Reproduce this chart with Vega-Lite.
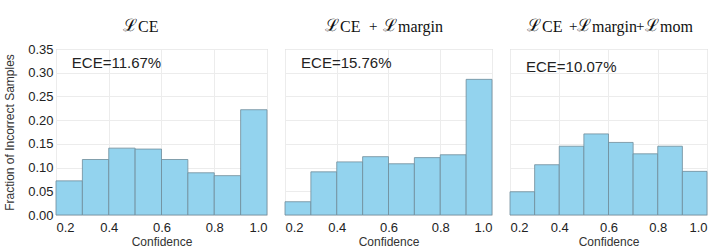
{
  "$schema": "https://vega.github.io/schema/vega-lite/v6.json",
  "padding": {"left": 3, "top": 16, "right": 0, "bottom": 0},
  "spacing": 18,
  "bounds": "flush",
  "config": {
    "view": {"stroke": "#c4c4c4", "strokeWidth": 1},
    "axis": {
      "labelFont": "Liberation Sans", "labelFontSize": 13, "labelColor": "#222",
      "titleFont": "Liberation Sans", "titleFontSize": 12, "titleFontWeight": "normal", "titleColor": "#333",
      "gridColor": "#ececec", "domain": false, "ticks": false
    }
  },
  "datasets": {
    "bins": [
      {"panel": 1, "x": 0.2, "x2": 0.3, "y": 0.072},
      {"panel": 1, "x": 0.3, "x2": 0.4, "y": 0.117},
      {"panel": 1, "x": 0.4, "x2": 0.5, "y": 0.141},
      {"panel": 1, "x": 0.5, "x2": 0.6, "y": 0.139},
      {"panel": 1, "x": 0.6, "x2": 0.7, "y": 0.117},
      {"panel": 1, "x": 0.7, "x2": 0.8, "y": 0.089},
      {"panel": 1, "x": 0.8, "x2": 0.9, "y": 0.083},
      {"panel": 1, "x": 0.9, "x2": 1.0, "y": 0.222},
      {"panel": 2, "x": 0.2, "x2": 0.3, "y": 0.028},
      {"panel": 2, "x": 0.3, "x2": 0.4, "y": 0.091},
      {"panel": 2, "x": 0.4, "x2": 0.5, "y": 0.112},
      {"panel": 2, "x": 0.5, "x2": 0.6, "y": 0.123},
      {"panel": 2, "x": 0.6, "x2": 0.7, "y": 0.108},
      {"panel": 2, "x": 0.7, "x2": 0.8, "y": 0.121},
      {"panel": 2, "x": 0.8, "x2": 0.9, "y": 0.127},
      {"panel": 2, "x": 0.9, "x2": 1.0, "y": 0.286},
      {"panel": 3, "x": 0.2, "x2": 0.3, "y": 0.049},
      {"panel": 3, "x": 0.3, "x2": 0.4, "y": 0.106},
      {"panel": 3, "x": 0.4, "x2": 0.5, "y": 0.145},
      {"panel": 3, "x": 0.5, "x2": 0.6, "y": 0.171},
      {"panel": 3, "x": 0.6, "x2": 0.7, "y": 0.153},
      {"panel": 3, "x": 0.7, "x2": 0.8, "y": 0.129},
      {"panel": 3, "x": 0.8, "x2": 0.9, "y": 0.145},
      {"panel": 3, "x": 0.9, "x2": 1.0, "y": 0.092}
    ],
    "ece": [
      {"panel": 1, "x": 0.26, "y": 0.32, "t": "ECE=11.67%"},
      {"panel": 2, "x": 0.262, "y": 0.32, "t": "ECE=15.76%"},
      {"panel": 3, "x": 0.265, "y": 0.313, "t": "ECE=10.07%"}
    ],
    "titles": [
      {"panel": 1, "t": "ℒ", "x": 0.454, "y": 0.388, "role": "L"},
      {"panel": 1, "t": "CE", "x": 0.511, "y": 0.385, "role": "sub"},
      {"panel": 2, "t": "ℒ", "x": 0.3546, "y": 0.388, "role": "L"},
      {"panel": 2, "t": "CE", "x": 0.4126, "y": 0.385, "role": "sub"},
      {"panel": 2, "t": "+", "x": 0.5246, "y": 0.388, "role": "op"},
      {"panel": 2, "t": "ℒ", "x": 0.5787, "y": 0.388, "role": "L"},
      {"panel": 2, "t": "margin", "x": 0.6367, "y": 0.385, "role": "sub"},
      {"panel": 3, "t": "ℒ", "x": 0.269, "y": 0.388, "role": "L"},
      {"panel": 3, "t": "CE", "x": 0.330, "y": 0.385, "role": "sub"},
      {"panel": 3, "t": "+", "x": 0.4396, "y": 0.388, "role": "op"},
      {"panel": 3, "t": "ℒ", "x": 0.4721, "y": 0.388, "role": "L"},
      {"panel": 3, "t": "margin", "x": 0.533, "y": 0.385, "role": "sub"},
      {"panel": 3, "t": "+", "x": 0.7117, "y": 0.388, "role": "op"},
      {"panel": 3, "t": "ℒ", "x": 0.7482, "y": 0.388, "role": "L"},
      {"panel": 3, "t": "mom", "x": 0.809, "y": 0.385, "role": "sub"}
    ]
  },
  "hconcat": [
    {
      "width": 211, "height": 166,
      "encoding": {
        "x": {"field": "x", "type": "quantitative", "scale": {"domain": [0.2, 1.0], "nice": false, "zero": false},
              "axis": {"values": [0.2, 0.4, 0.6, 0.8, 1.0], "format": ".1f", "labelPadding": 6, "title": "Confidence", "titlePadding": 2}},
        "y": {"field": "y", "type": "quantitative", "scale": {"domain": [0, 0.35], "nice": false, "zero": false},
              "axis": {"values": [0, 0.05, 0.1, 0.15, 0.2, 0.25, 0.3, 0.35], "format": ".2f", "labelPadding": 3, "labelOverlap": false, "title": "Fraction of Incorrect Samples", "titlePadding": 11}}
      },
      "layer": [
        {
          "data": {"name": "bins"},
          "transform": [{"filter": "datum.panel == 1"}],
          "mark": {"type": "bar", "fill": "#93d3ee", "stroke": "#6f8c99", "strokeWidth": 0.8},
          "encoding": {"x2": {"field": "x2"}, "y2": {"datum": 0}}
        },
        {
          "data": {"name": "ece"},
          "transform": [{"filter": "datum.panel == 1"}],
          "mark": {"type": "text", "align": "left", "baseline": "middle", "font": "Liberation Sans", "fontSize": 15, "color": "#222"},
          "encoding": {"text": {"field": "t"}}
        },
        {
          "data": {"name": "titles"},
          "transform": [{"filter": "datum.panel == 1"}],
          "mark": {"type": "text", "align": "left", "baseline": "alphabetic", "font": "Liberation Serif, DejaVu Serif, serif", "color": "#111"},
          "encoding": {"text": {"field": "t"},
            "size": {"field": "role", "type": "nominal", "scale": {"domain": ["L", "sub", "op"], "range": [17, 15, 13]}, "legend": null}}
        }
      ]
    },
    {
      "width": 207, "height": 166,
      "encoding": {
        "x": {"field": "x", "type": "quantitative", "scale": {"domain": [0.2, 1.0], "nice": false, "zero": false},
              "axis": {"values": [0.2, 0.4, 0.6, 0.8, 1.0], "format": ".1f", "labelPadding": 6, "title": "Confidence", "titlePadding": 2}},
        "y": {"field": "y", "type": "quantitative", "scale": {"domain": [0, 0.35], "nice": false, "zero": false},
              "axis": {"values": [0, 0.05, 0.1, 0.15, 0.2, 0.25, 0.3, 0.35], "labels": false, "title": null}}
      },
      "layer": [
        {
          "data": {"name": "bins"},
          "transform": [{"filter": "datum.panel == 2"}],
          "mark": {"type": "bar", "fill": "#93d3ee", "stroke": "#6f8c99", "strokeWidth": 0.8},
          "encoding": {"x2": {"field": "x2"}, "y2": {"datum": 0}}
        },
        {
          "data": {"name": "ece"},
          "transform": [{"filter": "datum.panel == 2"}],
          "mark": {"type": "text", "align": "left", "baseline": "middle", "font": "Liberation Sans", "fontSize": 15, "color": "#222"},
          "encoding": {"text": {"field": "t"}}
        },
        {
          "data": {"name": "titles"},
          "transform": [{"filter": "datum.panel == 2"}],
          "mark": {"type": "text", "align": "left", "baseline": "alphabetic", "font": "Liberation Serif, DejaVu Serif, serif", "color": "#111"},
          "encoding": {"text": {"field": "t"},
            "size": {"field": "role", "type": "nominal", "scale": {"domain": ["L", "sub", "op"], "range": [17, 15, 13]}, "legend": null}}
        }
      ]
    },
    {
      "width": 197, "height": 166,
      "encoding": {
        "x": {"field": "x", "type": "quantitative", "scale": {"domain": [0.2, 1.0], "nice": false, "zero": false},
              "axis": {"values": [0.2, 0.4, 0.6, 0.8, 1.0], "format": ".1f", "labelPadding": 6, "title": "Confidence", "titlePadding": 2}},
        "y": {"field": "y", "type": "quantitative", "scale": {"domain": [0, 0.35], "nice": false, "zero": false},
              "axis": {"values": [0, 0.05, 0.1, 0.15, 0.2, 0.25, 0.3, 0.35], "labels": false, "title": null}}
      },
      "layer": [
        {
          "data": {"name": "bins"},
          "transform": [{"filter": "datum.panel == 3"}],
          "mark": {"type": "bar", "fill": "#93d3ee", "stroke": "#6f8c99", "strokeWidth": 0.8},
          "encoding": {"x2": {"field": "x2"}, "y2": {"datum": 0}}
        },
        {
          "data": {"name": "ece"},
          "transform": [{"filter": "datum.panel == 3"}],
          "mark": {"type": "text", "align": "left", "baseline": "middle", "font": "Liberation Sans", "fontSize": 15, "color": "#222"},
          "encoding": {"text": {"field": "t"}}
        },
        {
          "data": {"name": "titles"},
          "transform": [{"filter": "datum.panel == 3"}],
          "mark": {"type": "text", "align": "left", "baseline": "alphabetic", "font": "Liberation Serif, DejaVu Serif, serif", "color": "#111"},
          "encoding": {"text": {"field": "t"},
            "size": {"field": "role", "type": "nominal", "scale": {"domain": ["L", "sub", "op"], "range": [17, 15, 13]}, "legend": null}}
        }
      ]
    }
  ]
}
